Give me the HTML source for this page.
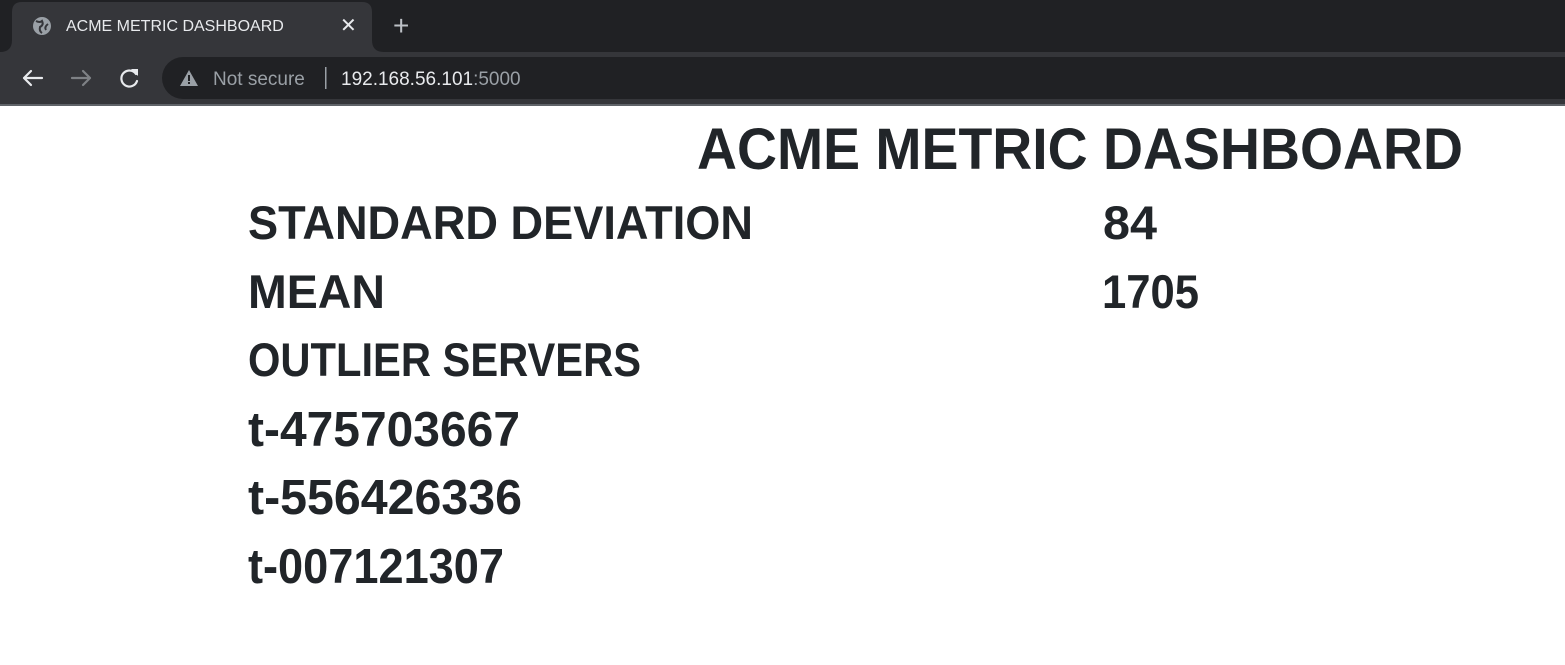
<!DOCTYPE html>
<html><head><meta charset="utf-8"><style>
html,body{margin:0;padding:0;width:1565px;height:665px;overflow:hidden;background:#fff;font-family:"Liberation Sans",sans-serif}
</style></head><body>
<svg width="1565" height="665" viewBox="0 0 1565 665" xmlns="http://www.w3.org/2000/svg">
  <rect x="0" y="0" width="1565" height="52" fill="#202124"/>
  <path d="M0 52 Q12 52 12 40 L12 12 Q12 2 22 2 L362 2 Q372 2 372 12 L372 40 Q372 52 384 52 Z" fill="#35363a"/>
  <circle cx="42" cy="26" r="9" fill="#9aa0a6"/>
  <path d="M36 21 q4 2 6 0 q2 4 -2 6 q-1 4 2 6 M46 30 q-2 -3 2 -6" stroke="#35363a" stroke-width="2" fill="none"/>
  <text x="66" y="31" font-size="16" fill="#e8eaed">ACME METRIC DASHBOARD</text>
  <text x="340" y="32" font-size="20" fill="#e8eaed">✕</text>
  <text x="393" y="35" font-size="28" fill="#bdc1c6">+</text>
  <rect x="0" y="52" width="1565" height="52" fill="#35363a"/>
  <rect x="0" y="104" width="1565" height="2" fill="#5f6368"/>
  <g stroke-width="2.2" fill="none" stroke-linecap="round">
    <path d="M24 78 H42 M24 78 L31 71 M24 78 L31 85" stroke="#e8eaed"/>
    <path d="M90 78 H72 M90 78 L83 71 M90 78 L83 85" stroke="#7e8185"/>
    <path d="M136 74 A8 8 0 1 0 137 81" stroke="#e8eaed"/>
  </g>
  <path d="M131 69 L138 69 L138 76 Z" fill="#e8eaed"/>
  <rect x="162" y="57" width="1430" height="42" rx="21" fill="#202124"/>
  <path d="M189 70 L198 86 L180 86 Z" fill="#9aa0a6"/>
  <rect x="188" y="75" width="2" height="6" fill="#202124"/><rect x="188" y="82" width="2" height="2" fill="#202124"/>
  <text x="213" y="85" font-size="19" fill="#9aa0a6">Not secure</text>
  <rect x="325" y="67" width="1.5" height="22" fill="#9aa0a6"/>
  <text x="341" y="85" font-size="19" fill="#e8eaed">192.168.56.101<tspan fill="#9aa0a6">:5000</tspan></text>

  <g fill="#212529" font-weight="bold">
    <text x="697" y="169" font-size="58" textLength="766" lengthAdjust="spacingAndGlyphs">ACME METRIC DASHBOARD</text>
    <text x="248" y="239" font-size="47" textLength="505" lengthAdjust="spacingAndGlyphs">STANDARD DEVIATION</text>
    <text x="1103" y="239" font-size="47" textLength="54" lengthAdjust="spacingAndGlyphs">84</text>
    <text x="248" y="308" font-size="47" textLength="137" lengthAdjust="spacingAndGlyphs">MEAN</text>
    <text x="1102" y="308" font-size="47" textLength="97" lengthAdjust="spacingAndGlyphs">1705</text>
    <text x="248" y="376" font-size="47" textLength="393" lengthAdjust="spacingAndGlyphs">OUTLIER SERVERS</text>
    <text x="248" y="446" font-size="49" textLength="272" lengthAdjust="spacingAndGlyphs">t-475703667</text>
    <text x="248" y="514" font-size="49" textLength="274" lengthAdjust="spacingAndGlyphs">t-556426336</text>
    <text x="248" y="583" font-size="49" textLength="256" lengthAdjust="spacingAndGlyphs">t-007121307</text>
  </g>
</svg>
</body></html>
